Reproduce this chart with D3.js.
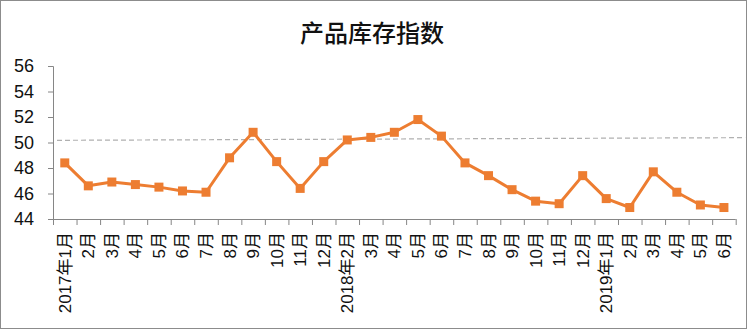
<!DOCTYPE html>
<html>
<head>
<meta charset="utf-8">
<script src="https://cdn.jsdelivr.net/npm/d3@7"></script>
<style>
  body { margin: 0; background: #fff; }
  svg { display: block; }
</style>
</head>
<body>
<div id="chart"></div>
<script>
// category labels (Excel skips 2018年1月 in the source data)
const months = ["2017年1月", "2月", "3月", "4月", "5月", "6月", "7月", "8月", "9月", "10月", "11月", "12月",
  "2018年2月", "3月", "4月", "5月", "6月", "7月", "8月", "9月", "10月", "11月", "12月",
  "2019年1月", "2月", "3月", "4月", "5月", "6月"];
const inventoryIndex = [48.4, 46.6, 46.9, 46.7, 46.5, 46.2, 46.1, 48.8, 50.8, 48.5, 46.4, 48.5,
  50.2, 50.4, 50.8, 51.8, 50.5, 48.4, 47.4, 46.3, 45.4, 45.2, 47.4,
  45.6, 44.9, 47.7, 46.1, 45.1, 44.9];
const yTicks = [44, 46, 48, 50, 52, 54, 56];
// linear trendline, start/end in category-index units
const trendIdx = [-0.33, 28.9];
const trendVal = [50.17, 50.38];

const W = 747, H = 330;
const plotL = 53, plotR = 735.7, plotT = 66, plotB = 219;
const orange = "#ED7D31", axisGray = "#868686";

const $svg = d3.select("#chart").append("svg")
  .attr("width", W)
  .attr("height", H);

// outer chart border
$svg.append("rect")
  .attr("x", 0.5).attr("y", 0.5)
  .attr("width", W - 1).attr("height", H - 2)
  .attr("fill", "#fff")
  .attr("stroke", "#8c8c8c");

$svg.append("text")
  .attr("x", 372).attr("y", 42)
  .attr("text-anchor", "middle")
  .attr("font-family", "Noto Sans CJK SC")
  .attr("font-size", 24)
  .attr("font-weight", 500)
  .attr("fill", "#111")
  .text("产品库存指数");

const x = d3.scaleBand()
  .domain(d3.range(months.length))
  .range([plotL, plotR]);
// boundary scale for tick marks (ticks sit between categories)
const xEdge = d3.scaleLinear()
  .domain([0, months.length])
  .range([plotL, plotR]);
const xCenter = i => x(0) + x.step() * (i + 0.5);

const y = d3.scaleLinear()
  .domain([44, 56])
  .range([plotB, plotT]);

// y axis
const yAxis = $svg.append("g")
  .attr("transform", `translate(${plotL},0)`)
  .call(d3.axisLeft(y).tickValues(yTicks).tickSize(5).tickPadding(14));
yAxis.select(".domain").attr("stroke", axisGray);
yAxis.selectAll(".tick line").attr("stroke", axisGray);
yAxis.selectAll(".tick text")
  .attr("font-family", "Liberation Sans, Arial, sans-serif")
  .attr("font-size", 18)
  .attr("fill", "#111");

// x axis
const xAxis = $svg.append("g")
  .attr("transform", `translate(0,${plotB})`)
  .call(d3.axisBottom(xEdge).tickValues(d3.range(months.length + 1)).tickSize(6).tickFormat(""));
xAxis.select(".domain").attr("stroke", axisGray).attr("d", `M${plotL},0.5H${plotR}`);
xAxis.selectAll(".tick line").attr("stroke", axisGray);

$svg.append("g")
  .selectAll("text")
  .data(months)
  .join("text")
  .attr("transform", (d, i) => `translate(${xCenter(i) + 6},${plotB + 13}) rotate(-90)`)
  .attr("text-anchor", "end")
  .attr("font-family", "Liberation Sans, Noto Sans CJK SC, sans-serif")
  .attr("font-size", 17)
  .attr("fill", "#111")
  .text(d => d);

// dashed trendline
$svg.append("line")
  .attr("x1", xCenter(trendIdx[0])).attr("y1", y(trendVal[0]))
  .attr("x2", xCenter(trendIdx[1])).attr("y2", y(trendVal[1]))
  .attr("stroke", "#b0b0b0")
  .attr("stroke-width", 1.2)
  .attr("stroke-dasharray", "5,3");

// series
const line = d3.line()
  .x((d, i) => xCenter(i))
  .y(d => y(d));

$svg.append("path")
  .datum(inventoryIndex)
  .attr("d", line)
  .attr("fill", "none")
  .attr("stroke", orange)
  .attr("stroke-width", 3)
  .attr("stroke-linejoin", "round");

$svg.append("g")
  .selectAll("rect")
  .data(inventoryIndex)
  .join("rect")
  .attr("x", (d, i) => xCenter(i) - 4.5)
  .attr("y", d => y(d) - 4.5)
  .attr("width", 9)
  .attr("height", 9)
  .attr("fill", orange);
</script>
</body>
</html>
